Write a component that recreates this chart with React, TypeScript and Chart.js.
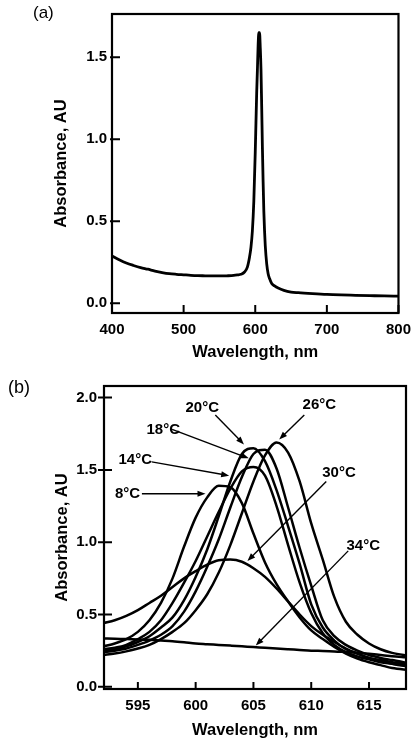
import React, { useEffect, useRef } from "react";
import { Chart, registerables } from "chart.js";

Chart.register(...registerables);

const FONT = "'Liberation Sans', Arial, Helvetica, sans-serif";

// ---------- Panel (a): full spectrum ----------
const wavelengthA = [
  400, 410, 420, 430, 440, 450, 460, 470, 480, 490, 500, 510, 520, 530, 540, 550, 560, 570, 575, 580,
  585, 589, 592, 594, 596, 598, 600, 601, 602, 603, 604, 605, 606, 607, 608, 609, 610, 611, 612, 613,
  614, 616, 618, 620, 623, 627, 632, 640, 650, 660, 680, 700, 720, 740, 760, 780, 800,
];
const absorbanceA = [
  0.288, 0.265, 0.245, 0.23, 0.217, 0.207, 0.196, 0.187, 0.18, 0.176, 0.173, 0.17, 0.168, 0.167, 0.166, 0.166, 0.167, 0.169, 0.172, 0.176,
  0.19, 0.22, 0.28, 0.34, 0.44, 0.62, 0.92, 1.1, 1.28, 1.42, 1.57, 1.65, 1.65, 1.56, 1.43, 1.2, 0.95, 0.74, 0.56, 0.44,
  0.35, 0.24, 0.18, 0.15, 0.12, 0.105, 0.092, 0.078, 0.068, 0.064, 0.058, 0.053, 0.05, 0.048, 0.046, 0.044, 0.043,
];
const xTicksA = [400, 500, 600, 700, 800];
const yTicksA = [0, 0.5, 1.0, 1.5];

// ---------- Panel (b): temperature series ----------
const wavelengthB = [
  592, 593, 594, 595, 596, 597, 598, 599, 600, 601, 602, 603, 604, 605, 606, 607, 608, 609, 610, 611,
  612, 613, 614, 615, 616, 617, 618, 619,
];
const abs8C = [
  0.28, 0.3, 0.33, 0.38, 0.46, 0.58, 0.75, 0.97, 1.17, 1.31, 1.39, 1.38, 1.27, 1.06, 0.86, 0.71, 0.59, 0.48, 0.39, 0.33,
  0.275, 0.23, 0.195, 0.17, 0.15, 0.13, 0.12, 0.115,
];
const abs14C = [
  0.26, 0.27, 0.29, 0.33, 0.38, 0.46, 0.58, 0.72, 0.87, 1.04, 1.21, 1.37, 1.49, 1.52, 1.46, 1.25, 0.98, 0.72, 0.51, 0.37,
  0.29, 0.24, 0.21, 0.19, 0.17, 0.16, 0.15, 0.14,
];
const abs18C = [
  0.24, 0.25, 0.265, 0.29, 0.32, 0.36, 0.42, 0.52, 0.66, 0.83, 1.02, 1.24, 1.45, 1.61, 1.64, 1.51, 1.24, 0.96, 0.7, 0.46,
  0.35, 0.29, 0.25, 0.22, 0.2, 0.185, 0.17, 0.16,
];
const abs20C = [
  0.25, 0.26, 0.28, 0.31, 0.35, 0.41, 0.48, 0.6, 0.76, 0.95, 1.18, 1.42, 1.61, 1.65, 1.56, 1.36, 1.11, 0.85, 0.57, 0.41,
  0.32, 0.26, 0.23, 0.2, 0.185, 0.17, 0.16, 0.15,
];
const abs26C = [
  0.22, 0.23, 0.245, 0.265, 0.29, 0.33, 0.38, 0.44, 0.53, 0.64, 0.79, 0.98, 1.2, 1.42, 1.6, 1.69, 1.62, 1.42, 1.13, 0.88,
  0.62, 0.45, 0.36, 0.3, 0.26, 0.235, 0.22, 0.21,
];
const abs30C = [
  0.44, 0.46, 0.49, 0.53, 0.58, 0.63, 0.69, 0.75, 0.8, 0.845, 0.875, 0.88, 0.865, 0.82, 0.76, 0.68, 0.59, 0.5, 0.42, 0.36,
  0.31, 0.265, 0.23, 0.2, 0.18, 0.16, 0.145, 0.135,
];
const abs34C = [
  0.335, 0.333, 0.33, 0.328, 0.325, 0.32, 0.315, 0.308, 0.3, 0.295, 0.29, 0.285, 0.28, 0.275, 0.27, 0.265, 0.26, 0.255, 0.25, 0.248,
  0.245, 0.24, 0.235, 0.228, 0.22, 0.212, 0.205, 0.2,
];
const seriesB = [abs8C, abs14C, abs18C, abs20C, abs26C, abs30C, abs34C];
const xTicksB = [595, 600, 605, 610, 615];
const yTicksB = [0, 0.5, 1.0, 1.5, 2.0];

// Annotation labels (data coordinates) and arrows
const annText = ["20°C", "26°C", "18°C", "14°C", "8°C", "30°C", "34°C"];
const annLabelX = [600.57, 610.7, 597.2, 594.77, 594.1, 612.4, 614.5];
const annLabelY = [1.93, 1.95, 1.78, 1.57, 1.335, 1.48, 0.975];
const arrowFromX = [601.7, 609.4, 597.96, 596.2, 595.35, 611.3, 613.2];
const arrowFromY = [1.88, 1.88, 1.78, 1.555, 1.335, 1.42, 0.94];
const arrowToX = [604.18, 607.23, 604.6, 602.9, 600.85, 604.48, 605.2];
const arrowToY = [1.676, 1.71, 1.58, 1.46, 1.335, 0.87, 0.285];

function framePlugin(xTicks: number[], yTicks: number[], xIn: number, yIn: number, yOut: number) {
  return {
    id: "frameTicks",
    afterDatasetsDraw(chart: any) {
      const { ctx, chartArea, scales } = chart;
      const { left, right, top, bottom } = chartArea;
      ctx.save();
      ctx.strokeStyle = "#000";
      ctx.lineWidth = 2.2;
      ctx.strokeRect(left, top, right - left, bottom - top);
      ctx.lineWidth = 2;
      ctx.beginPath();
      xTicks.forEach((v) => {
        const px = scales.x.getPixelForValue(v);
        ctx.moveTo(px, bottom);
        ctx.lineTo(px, bottom - xIn);
      });
      yTicks.forEach((v) => {
        const py = scales.y.getPixelForValue(v);
        ctx.moveTo(left - yOut, py);
        ctx.lineTo(left + yIn, py);
      });
      ctx.stroke();
      ctx.restore();
    },
  };
}

const annotationPlugin = {
  id: "arrows",
  afterDatasetsDraw(chart: any) {
    const { ctx, scales } = chart;
    const { x, y } = scales;
    ctx.save();
    ctx.strokeStyle = "#000";
    ctx.fillStyle = "#000";
    ctx.lineWidth = 1.4;
    for (let i = 0; i < annText.length; i++) {
      const x1 = x.getPixelForValue(arrowFromX[i]);
      const y1 = y.getPixelForValue(arrowFromY[i]);
      const x2 = x.getPixelForValue(arrowToX[i]);
      const y2 = y.getPixelForValue(arrowToY[i]);
      const ang = Math.atan2(y2 - y1, x2 - x1);
      const hl = 8;
      const hw = 3;
      ctx.beginPath();
      ctx.moveTo(x1, y1);
      ctx.lineTo(x2 - Math.cos(ang) * hl * 0.8, y2 - Math.sin(ang) * hl * 0.8);
      ctx.stroke();
      ctx.beginPath();
      ctx.moveTo(x2, y2);
      ctx.lineTo(x2 - Math.cos(ang) * hl - Math.sin(ang) * hw, y2 - Math.sin(ang) * hl + Math.cos(ang) * hw);
      ctx.lineTo(x2 - Math.cos(ang) * hl + Math.sin(ang) * hw, y2 - Math.sin(ang) * hl - Math.cos(ang) * hw);
      ctx.closePath();
      ctx.fill();
    }
    ctx.font = `bold 15px ${FONT}`;
    ctx.textAlign = "center";
    ctx.textBaseline = "middle";
    for (let i = 0; i < annText.length; i++) {
      ctx.fillText(annText[i], x.getPixelForValue(annLabelX[i]), y.getPixelForValue(annLabelY[i]));
    }
    ctx.restore();
  },
};

const tickFont = { family: FONT, size: 15, weight: "bold" as const };
const titleFont = { family: FONT, size: 16.5, weight: "bold" as const };

function lineDataset(xs: number[], ys: number[], width: number) {
  return {
    data: xs.map((v, i) => ({ x: v, y: ys[i] })),
    borderColor: "#000",
    borderWidth: width,
    pointRadius: 0,
    fill: false,
    cubicInterpolationMode: "monotone" as const,
  };
}

export default function App() {
  const refA = useRef<HTMLCanvasElement | null>(null);
  const refB = useRef<HTMLCanvasElement | null>(null);

  useEffect(() => {
    const chartA = new Chart(refA.current as HTMLCanvasElement, {
      type: "line",
      data: { datasets: [lineDataset(wavelengthA, absorbanceA, 2.8)] },
      options: {
        responsive: false,
        animation: false,
        devicePixelRatio: 1,
        layout: { padding: { top: 9, right: 12, left: 0, bottom: 0 } },
        plugins: { legend: { display: false }, tooltip: { enabled: false } },
        scales: {
          x: {
            type: "linear",
            min: 400,
            max: 800,
            afterBuildTicks: (s: any) => {
              s.ticks = xTicksA.map((v) => ({ value: v }));
            },
            afterFit: (s: any) => {
              s.height = 57;
            },
            grid: { display: false, drawTicks: false },
            border: { display: false },
            ticks: { font: tickFont, color: "#000", padding: 8, maxRotation: 0 },
            title: { display: true, text: "Wavelength, nm", font: titleFont, color: "#000", padding: { top: 0, bottom: 8 } },
          },
          y: {
            type: "linear",
            min: -0.06,
            max: 1.764,
            afterBuildTicks: (s: any) => {
              s.ticks = yTicksA.map((v) => ({ value: v }));
            },
            afterFit: (s: any) => {
              s.width = 112;
            },
            grid: { display: false, drawTicks: false },
            border: { display: false },
            ticks: { font: tickFont, color: "#000", padding: 5, callback: (v: any) => Number(v).toFixed(1) },
            title: { display: true, text: "Absorbance, AU", font: titleFont, color: "#000", padding: { top: 52, bottom: 0 } },
          },
        },
      },
      plugins: [framePlugin(xTicksA, yTicksA, 8, 8, 2)],
    } as any);

    const chartB = new Chart(refB.current as HTMLCanvasElement, {
      type: "line",
      data: { datasets: seriesB.map((s) => lineDataset(wavelengthB, s, 2.5)) },
      options: {
        responsive: false,
        animation: false,
        devicePixelRatio: 1,
        layout: { padding: { top: 15, right: 13, left: 0, bottom: 0 } },
        plugins: { legend: { display: false }, tooltip: { enabled: false } },
        scales: {
          x: {
            type: "linear",
            min: 592.07,
            max: 618.2,
            afterBuildTicks: (s: any) => {
              s.ticks = xTicksB.map((v) => ({ value: v }));
            },
            afterFit: (s: any) => {
              s.height = 52;
            },
            grid: { display: false, drawTicks: false },
            border: { display: false },
            ticks: { font: tickFont, color: "#000", padding: 8, maxRotation: 0 },
            title: { display: true, text: "Wavelength, nm", font: titleFont, color: "#000", padding: { top: 0, bottom: 1 } },
          },
          y: {
            type: "linear",
            min: -0.015,
            max: 2.08,
            afterBuildTicks: (s: any) => {
              s.ticks = yTicksB.map((v) => ({ value: v }));
            },
            afterFit: (s: any) => {
              s.width = 104;
            },
            grid: { display: false, drawTicks: false },
            border: { display: false },
            ticks: { font: tickFont, color: "#000", padding: 7, callback: (v: any) => Number(v).toFixed(1) },
            title: { display: true, text: "Absorbance, AU", font: titleFont, color: "#000", padding: { top: 53, bottom: 0 } },
          },
        },
      },
      plugins: [framePlugin(xTicksB, yTicksB, 7, 8, 6), annotationPlugin],
    } as any);

    return () => {
      chartA.destroy();
      chartB.destroy();
    };
  }, []);

  return (
    <div style={{ position: "absolute", left: 0, top: 0, width: 419, height: 741, background: "#fff", overflow: "hidden" }}>
      <canvas ref={refA} width={419} height={370} style={{ position: "absolute", left: 0, top: 0, width: 419, height: 370 }} />
      <canvas ref={refB} width={419} height={371} style={{ position: "absolute", left: 0, top: 370, width: 419, height: 371 }} />
      <div style={{ position: "absolute", left: 33, top: 2, fontFamily: FONT, fontSize: 17, lineHeight: "22px", color: "#000" }}>(a)</div>
      <div style={{ position: "absolute", left: 8, top: 376, fontFamily: FONT, fontSize: 18, lineHeight: "22px", color: "#000" }}>(b)</div>
    </div>
  );
}
